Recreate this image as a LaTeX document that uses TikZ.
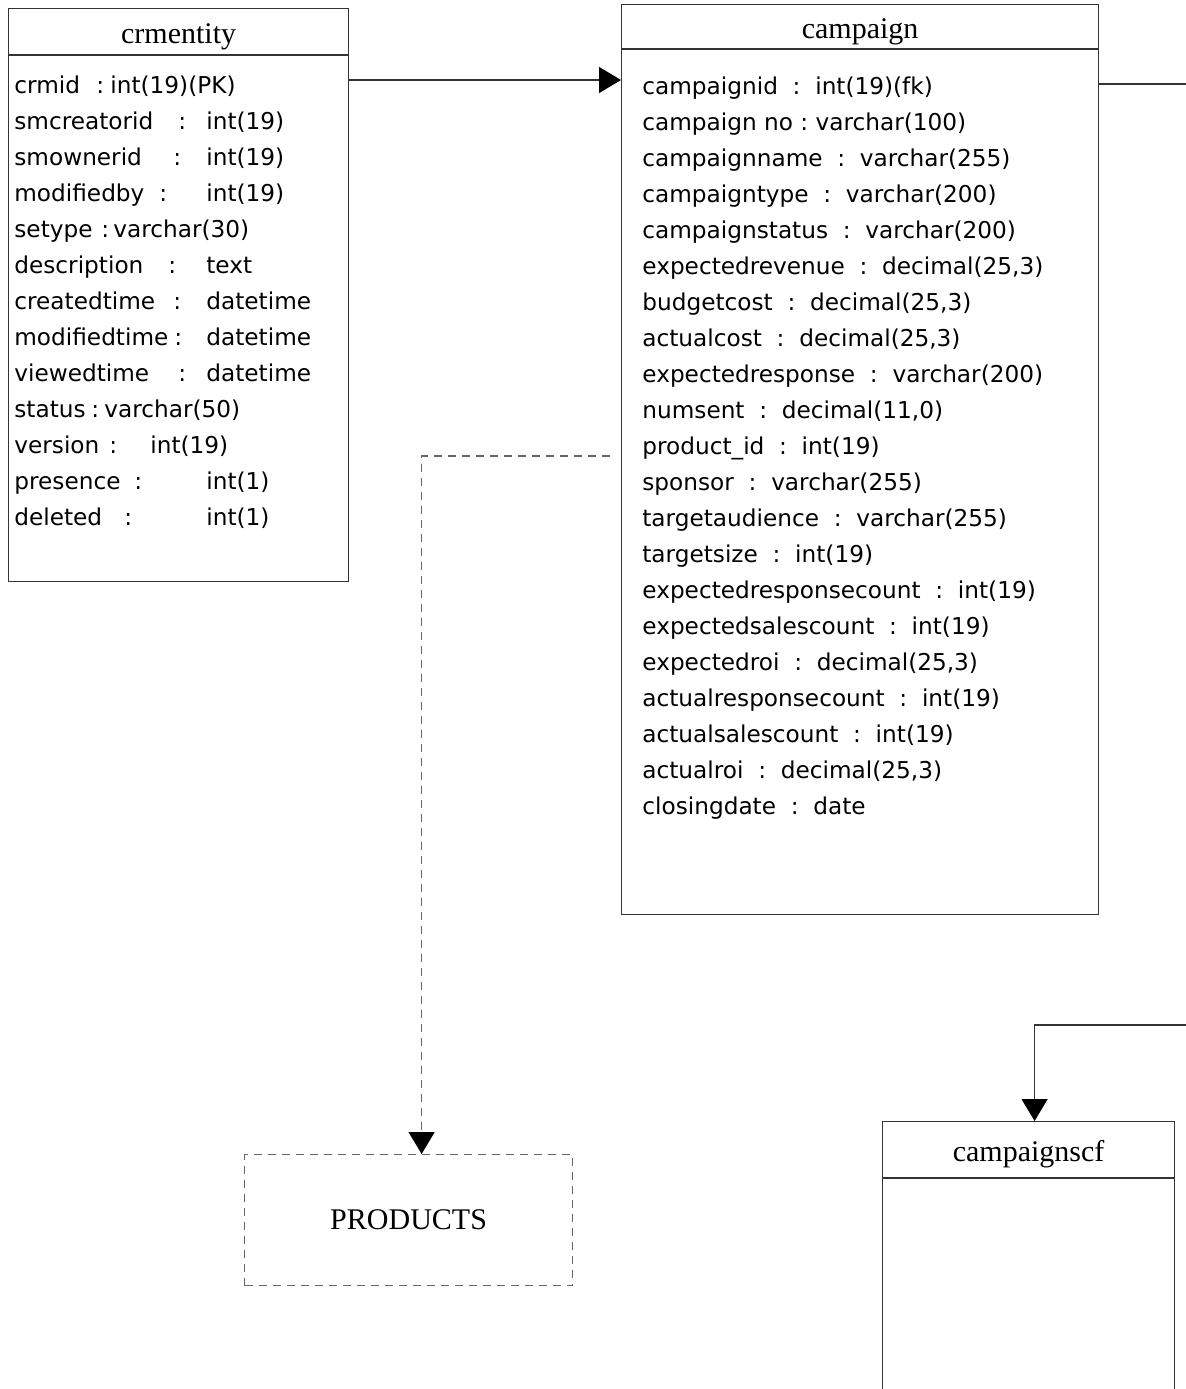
\documentclass[tikz,border=0pt]{standalone}
\usepackage{fontspec}
\setmainfont{Liberation Serif}
\newfontfamily\attrfont{DejaVu Sans}
\usetikzlibrary{arrows.meta,positioning}

\definecolor{linegray}{HTML}{333333}
\definecolor{dashgray}{HTML}{666666}

\tikzset{
  tablehead/.style={draw=linegray, line width=0.6pt, anchor=north west, inner sep=0pt,
    text height=12.5pt, text depth=0.5pt, font=\fontsize{15}{18}\selectfont},
  tablebody/.style={draw=linegray, line width=0.6pt, inner sep=0pt},
  attr/.style={anchor=base west, inner sep=0pt, font=\attrfont\fontsize{11.6}{14}\selectfont},
  relarrow/.style={draw=linegray, line width=0.6pt,
    -{Triangle[length=11pt,width=13pt,color=black]}},
  dashedbox/.style={draw=dashgray, line width=0.6pt, dash pattern=on 4pt off 3pt,
    inner sep=0pt, anchor=north west, font=\fontsize{15}{18}\selectfont},
}

\begin{document}
\begin{tikzpicture}[x=0.5pt, y=-0.5pt]
	\useasboundingbox (0,0) rectangle (1186,1389);
	\clip (0,0) rectangle (1186,1389);

	% crmentity
	\node[tablehead, minimum width=170pt, minimum height=23pt] (crmhead) at (8,8) {crmentity};
	\node[tablebody, below=0pt of crmhead, minimum width=170pt, minimum height=263pt] (crmbody) {};
	\foreach \nm/\cx/\ty/\tx [count=\i from 0] in {
		crmid/96/int(19)(PK)/110,
		smcreatorid/178/int(19)/206,
		smownerid/173/int(19)/206,
		modifiedby/159/int(19)/206,
		setype/101/varchar(30)/113,
		description/168/text/206,
		createdtime/173/datetime/206,
		modifiedtime/174/datetime/206,
		viewedtime/178/datetime/206,
		status/91/varchar(50)/104,
		version/109/int(19)/150,
		presence/134/int(1)/206,
		deleted/124/int(1)/206}
	{
		\node[attr] (crm-\i) at (14,93+36*\i) {\nm};
		\node[attr] at (\cx,93+36*\i) {:};
		\node[attr] at (\tx,93+36*\i) {\ty};
	}

	% campaign
	\node[tablehead, minimum width=238.5pt, minimum height=22pt] (cmphead) at (621,4) {campaign};
	\node[tablebody, below=0pt of cmphead, minimum width=238.5pt, minimum height=432.5pt] (cmpbody) {};
	\foreach \txt [count=\i from 0] in {
		campaignid~~:~~int(19)(fk),
		campaign no~:~varchar(100),
		campaignname~~:~~varchar(255),
		campaigntype~~:~~varchar(200),
		campaignstatus~~:~~varchar(200),
		{expectedrevenue~~:~~decimal(25,3)},
		{budgetcost~~:~~decimal(25,3)},
		{actualcost~~:~~decimal(25,3)},
		expectedresponse~~:~~varchar(200),
		{numsent~~:~~decimal(11,0)},
		product\_id~~:~~int(19),
		sponsor~~:~~varchar(255),
		targetaudience~~:~~varchar(255),
		targetsize~~:~~int(19),
		expectedresponsecount~~:~~int(19),
		expectedsalescount~~:~~int(19),
		{expectedroi~~:~~decimal(25,3)},
		actualresponsecount~~:~~int(19),
		actualsalescount~~:~~int(19),
		{actualroi~~:~~decimal(25,3)},
		closingdate~~:~~date}
		\node[attr] (cmp-\i) at (642,94+36*\i) {\txt};

	% campaignscf
	\node[tablehead, minimum width=146pt, minimum height=28pt] (scfhead) at (882,1121) {campaignscf};
	\node[tablebody, below=0pt of scfhead, minimum width=146pt, minimum height=130pt] (scfbody) {};

	% products
	\node[dashedbox, minimum width=164pt, minimum height=65.5pt] (prodbox) at (244,1154) {PRODUCTS};

	% relations
	\coordinate (row1) at (0,80);
	\coordinate (offright1) at (1200,84);
	\coordinate (offright2) at (1200,1025);
	\draw[relarrow] (crmbody.east |- row1) -- (cmpbody.west |- row1);
	\draw[draw=linegray, line width=0.6pt] (cmpbody.east |- offright1) -- (offright1);
	\draw[relarrow] (offright2) -| ([xshift=3pt]scfhead.north);
	\draw[relarrow, draw=dashgray, dash pattern=on 4pt off 3pt]
		([xshift=-5.5pt]cmpbody.west |- 0,456) -| ([xshift=6.5pt]prodbox.north);
\end{tikzpicture}
\end{document}
